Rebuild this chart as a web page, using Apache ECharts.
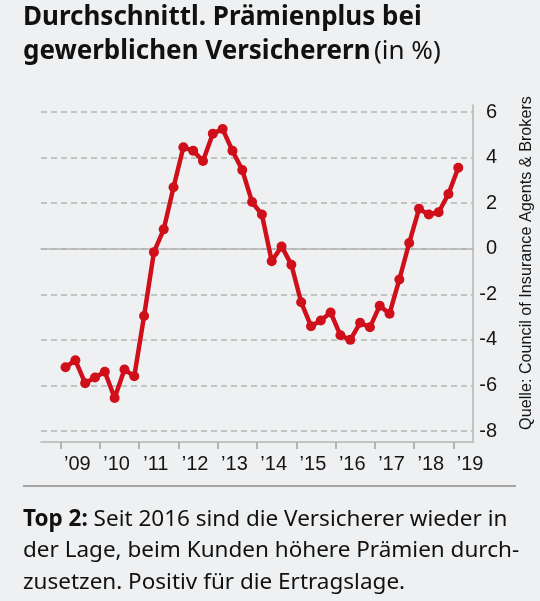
<!DOCTYPE html>
<html><head><meta charset="utf-8">
<script src="https://cdn.jsdelivr.net/npm/echarts@6/dist/echarts.min.js"></script>
<style>html,body{margin:0;padding:0;background:#eff0f2;}#c{width:540px;height:601px;}</style>
</head><body><div id="c"></div>
<script>
// Quarters shown on the axis (first two and last are empty padding of the axis range)
const quarters = [
  '2008 Q3','2008 Q4',
  '2009 Q1','2009 Q2','2009 Q3','2009 Q4',
  '2010 Q1','2010 Q2','2010 Q3','2010 Q4',
  '2011 Q1','2011 Q2','2011 Q3','2011 Q4',
  '2012 Q1','2012 Q2','2012 Q3','2012 Q4',
  '2013 Q1','2013 Q2','2013 Q3','2013 Q4',
  '2014 Q1','2014 Q2','2014 Q3','2014 Q4',
  '2015 Q1','2015 Q2','2015 Q3','2015 Q4',
  '2016 Q1','2016 Q2','2016 Q3','2016 Q4',
  '2017 Q1','2017 Q2','2017 Q3','2017 Q4',
  '2018 Q1','2018 Q2','2018 Q3','2018 Q4',
  '2019 Q1','2019 Q2'
];
// Average premium increase (%)
const premiumPlus = [
  null, null,
  -5.2, -4.9, -5.9, -5.65,
  -5.4, -6.55, -5.3, -5.6,
  -2.95, -0.15, 0.85, 2.7,
  4.45, 4.3, 3.85, 5.05,
  5.25, 4.3, 3.45, 2.05,
  1.5, -0.55, 0.1, -0.7,
  -2.35, -3.4, -3.15, -2.8,
  -3.8, -4.0, -3.25, -3.45,
  -2.5, -2.85, -1.35, 0.25,
  1.75, 1.5, 1.6, 2.4,
  3.55, null
];
const yearLabels = ['\u201909','\u201910','\u201911','\u201912','\u201913','\u201914','\u201915','\u201916','\u201917','\u201918','\u201919'];
const yearStartIndex = [2, 6, 10, 14, 18, 22, 26, 30, 34, 38, 42]; // quarter index where each year starts
const yTicks = { min: -8, max: 6, interval: 2 };

const titleText = 'Durchschnittl. Pr\u00e4mienplus bei';
const titleText2 = 'gewerblichen Versicherern';
const titleUnit = '(in %)';
const sourceText = 'Quelle: Council of Insurance Agents & Brokers';
const captionLines = [
  ['Top 2:', ' Seit 2016 sind die Versicherer wieder in'],
  ['', 'der Lage, beim Kunden h\u00f6here Pr\u00e4mien durch-'],
  ['', 'zusetzen. Positiv f\u00fcr die Ertragslage.']
];

const FONT = '"Liberation Sans", Arial, sans-serif';
const TFONT = '"Noto Sans", "Liberation Sans", sans-serif';
const GRAY = '#b4b4b4';
const RED = '#cf0f1a';

const chart = echarts.init(document.getElementById('c'), null, {renderer: 'canvas'});
const L = 41, R = 67;
const labelPos = yearStartIndex.map(i => i + 1.7);

chart.setOption({
  backgroundColor: '#eff0f2',
  animation: false,
  grid: [
    {left: L, right: R, top: 112, bottom: 170},
    {left: L, right: R, top: 105, bottom: 159}
  ],
  xAxis: [
    {
      gridIndex: 0, type: 'category', data: quarters, boundaryGap: true,
      axisLine: {show: true, onZero: true, lineStyle: {color: GRAY, width: 1.5}},
      axisTick: {show: false}, axisLabel: {show: false}, splitLine: {show: false}
    },
    {
      gridIndex: 1, type: 'value', min: 0, max: quarters.length,
      axisLine: {show: true, onZero: false, lineStyle: {color: GRAY, width: 1.5}},
      axisTick: {show: true, length: 7, lineStyle: {color: GRAY, width: 2}, customValues: yearStartIndex},
      axisLabel: {
        show: true, customValues: labelPos, margin: 12,
        fontSize: 20, color: '#151515', fontFamily: FONT,
        formatter: function (v) {
          const k = labelPos.findIndex(p => Math.abs(p - v) < 1e-6);
          return k >= 0 ? yearLabels[k] : '';
        }
      },
      splitLine: {show: false}
    }
  ],
  yAxis: [
    {
      gridIndex: 0, type: 'value', position: 'right',
      min: yTicks.min, max: yTicks.max, interval: yTicks.interval,
      axisLine: {show: false}, axisTick: {show: false},
      axisLabel: {fontSize: 20, color: '#151515', fontFamily: FONT, align: 'right', margin: 24},
      splitLine: {show: true, lineStyle: {color: GRAY, width: 1.5, type: [6, 4]}}
    },
    {
      gridIndex: 1, type: 'value', position: 'right', min: 0, max: 1,
      axisLine: {show: true, onZero: false, lineStyle: {color: GRAY, width: 1.5}},
      axisTick: {show: false}, axisLabel: {show: false}, splitLine: {show: false}
    }
  ],
  series: [{
    type: 'line', xAxisIndex: 0, yAxisIndex: 0, data: premiumPlus,
    symbol: 'circle', symbolSize: 10, showSymbol: true, showAllSymbol: true,
    lineStyle: {color: RED, width: 4.5},
    itemStyle: {color: RED},
    z: 10
  }],
  graphic: [
    {
      type: 'text', left: 23, top: 5,
      style: {
        text: '{b|' + titleText + '}\n{b|' + titleText2 + '} {n|' + titleUnit + '}',
        fill: '#111',
        rich: {
          b: {fontFamily: TFONT, fontWeight: 'bold', fontSize: 26, lineHeight: 34, fill: '#111'},
          n: {fontFamily: TFONT, fontWeight: 'normal', fontSize: 26, lineHeight: 34, fill: '#111'}
        }
      }
    },
    {
      type: 'text', x: 527, y: 263, rotation: Math.PI / 2,
      style: {text: sourceText, fontFamily: FONT, fontSize: 16.2, fill: '#151515', align: 'center', verticalAlign: 'middle'}
    },
    {
      type: 'line', shape: {x1: 23, y1: 486, x2: 516, y2: 486},
      style: {stroke: '#8c8c8c', lineWidth: 1.5}
    },
    {
      type: 'text', left: 23, top: 508,
      style: {
        text: captionLines.map(l => (l[0] ? '{b|' + l[0] + '}' : '') + '{n|' + l[1] + '}').join('\n'),
        rich: {
          b: {fontFamily: TFONT, fontWeight: 'bold', fontSize: 22.5, lineHeight: 31.5, fill: '#111'},
          n: {fontFamily: TFONT, fontWeight: 'normal', fontSize: 22.5, lineHeight: 31.5, fill: '#111'}
        }
      }
    }
  ]
});
</script></body></html>
